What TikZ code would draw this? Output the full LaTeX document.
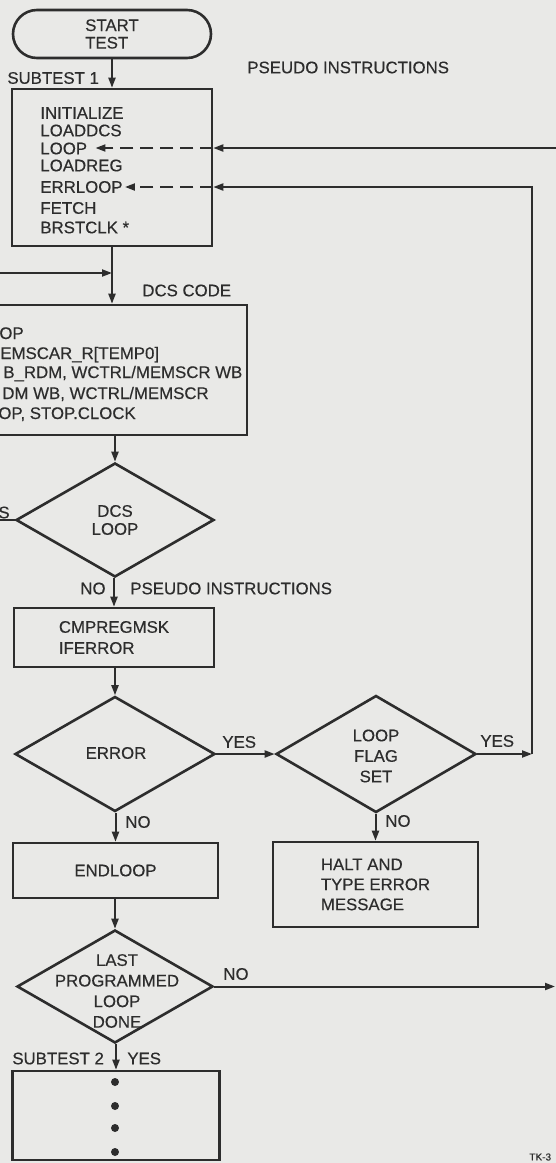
\documentclass[tikz,border=0pt]{standalone}
\usepackage{fontspec}
\setmainfont{Liberation Sans}[FakeBold=0.4]
\usetikzlibrary{shapes.geometric,arrows.meta}
\definecolor{paper}{RGB}{233,233,231}
\definecolor{ink}{RGB}{45,45,45}
\newcommand{\flowfont}[1]{\fontsize{8.4}{#1}\selectfont}
\tikzset{
    txt/.style={inner sep=0pt, text=ink, font=\flowfont{10pt}},
    box/.style={draw=ink, line width=1.3pt, inner sep=0pt, text=ink, align=left, font=\flowfont{10pt}},
    dia/.style={draw=ink, line width=1.3pt, diamond, inner sep=0pt},
    flow/.style={draw=ink, line width=1pt, -{Triangle[length=5pt,width=3.5pt]}},
    wire/.style={draw=ink, line width=1pt},
}
\begin{document}
\begin{tikzpicture}[x=0.5pt,y=-0.5pt]
    \path[use as bounding box, fill=paper] (0,0) rectangle (556,1163);
    \clip (0,0) rectangle (556,1163);
    \node[box, rounded corners=12pt, minimum width=99pt, minimum height=24pt, font=\flowfont{8.75pt}] (start) at (112,34) {START\\TEST};
    \node[box, minimum width=100pt, minimum height=78.5pt] (sub1) at (112,167.5) {};
    \foreach \t/\y/\n in {INITIALIZE/113/lInit, LOADDCS/130.5/lDcs, LOOP/148.5/lLoop, LOADREG/165.5/lReg, ERRLOOP/187/lErr, FETCH/208/lFetch, BRSTCLK */227.5/lClk}
        \node[txt, anchor=west] (\n) at (40,\y) {\t};
    \node[box, minimum width=135pt, minimum height=65pt] (dcs) at (112,370) {};
    \node[txt, anchor=base west] (d1) at (-1,339) {OP};
    \node[txt, anchor=base west] (d2) at (0,359) {EMSCAR\_R[TEMP0]};
    \node[txt, anchor=base west] (d3) at (3,378) {B\_RDM, WCTRL/MEMSCR WB};
    \node[txt, anchor=base west] (d4) at (2,399) {DM WB, WCTRL/MEMSCR};
    \node[txt, anchor=base west] (d5) at (-2,419) {OP, STOP.CLOCK};
    \node[dia, minimum width=99pt, minimum height=57pt] (dcsloop) at (115,520) {};
    \node[txt, align=center, font=\flowfont{9pt}] (dcsloopT) at (dcsloop) {DCS\\LOOP};
    \node[box, minimum width=100pt, minimum height=29.5pt, font=\flowfont{10.5pt}] (regmsk) at (114,637.5) {CMPREGMSK\\IFERROR};
    \node[dia, minimum width=100pt, minimum height=57.5pt] (error) at (115,754) {};
    \node[txt] (errorT) at (116,753) {ERROR};
    \node[dia, minimum width=100pt, minimum height=58.5pt] (flag) at (376,754) {};
    \node[txt, align=center, font=\flowfont{10.25pt}] (flagT) at (376,756) {LOOP\\FLAG\\SET};
    \node[box, minimum width=102.5pt, minimum height=42.5pt] (halt) at (375.5,884.5) {HALT AND\\TYPE ERROR\\MESSAGE};
    \node[box, minimum width=102.5pt, minimum height=27.5pt] (endloop) at (115.5,870.5) {ENDLOOP};
    \node[dia, minimum width=98pt, minimum height=56.5pt] (last) at (115,986.5) {};
    \node[txt, align=center, font=\flowfont{10.3pt}] (lastT) at (117,991) {LAST\\PROGRAMMED\\LOOP\\DONE};
    \node[box, minimum width=103.5pt, minimum height=44.5pt] (sub2) at (116,1115.5) {};
    \foreach \y in {1082,1106,1128,1152}
        \fill[ink] (115,\y) circle (2pt);
    \foreach \a/\b in {start/sub1, sub1/dcs, dcs/dcsloop, dcsloop/regmsk, regmsk/error, error/endloop, endloop/last, last/sub2, flag/halt}
        \draw[flow] (\b.north |- \a.south) -- (\b.north);
    \coordinate (rTop) at (560,148);
    \coordinate (rLoop) at (532,0);
    \coordinate (lIn) at (-5,273);
    \coordinate (rEnd) at (555,0);
    \draw[flow] (rTop) -- (rTop -| sub1.east);
    \draw[flow, dash pattern=on 6.5pt off 3.5pt, shorten >=4pt] (rTop -| sub1.east) -- (rTop -| lLoop.east);
    \draw[flow] (error.east) -- (flag.west);
    \draw[flow] (flag.east) -- (flag.east -| rLoop);
    \draw[flow] (flag.east -| rLoop) |- (lErr -| sub1.east);
    \draw[flow, dash pattern=on 6.5pt off 3.5pt, shorten >=1pt] (lErr -| sub1.east) -- (lErr.east);
    \draw[flow] (lIn) -- (lIn -| sub1.south);
    \draw[wire] (dcsloop.west) -- (dcsloop.west -| lIn);
    \draw[flow] (last.east) -- (last.east -| rEnd);
    \node[txt, anchor=west] (sub1L) at (7,78) {SUBTEST 1};
    \node[txt, anchor=west] (pseudoA) at (247,67.5) {PSEUDO INSTRUCTIONS};
    \node[txt, anchor=west] (dcsL) at (142,290.5) {DCS CODE};
    \node[txt, anchor=west] (yesA) at (-2,512.5) {S};
    \node[txt, anchor=west] (noA) at (80,588.5) {NO};
    \node[txt, anchor=west] (pseudoB) at (130,588.5) {PSEUDO INSTRUCTIONS};
    \node[txt, anchor=west] (yesB) at (222,742) {YES};
    \node[txt, anchor=west] (yesC) at (480,741) {YES};
    \node[txt, anchor=west] (noB) at (385,821) {NO};
    \node[txt, anchor=west] (noC) at (125,822) {NO};
    \node[txt, anchor=west] (noD) at (223,974) {NO};
    \node[txt, anchor=west] (sub2L) at (12,1058.5) {SUBTEST 2};
    \node[txt, anchor=west] (yesD) at (127,1058.5) {YES};
    \node[txt, anchor=west, font=\fontsize{5}{6}\selectfont] (tk) at (529,1157) {TK-3};
\end{tikzpicture}
\end{document}
